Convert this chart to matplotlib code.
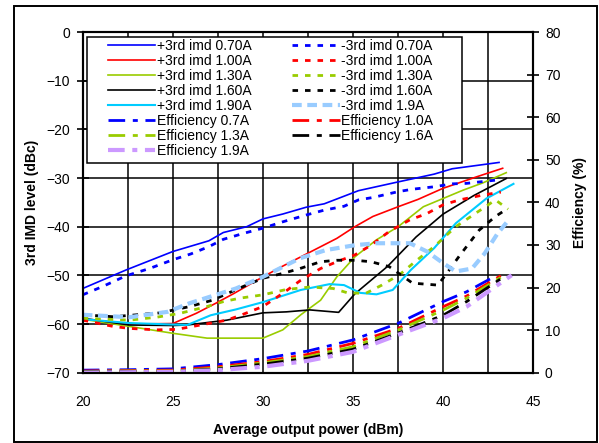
import matplotlib
matplotlib.use("Agg")
import matplotlib.pyplot as plt
from matplotlib.patches import Rectangle
from matplotlib.ticker import MultipleLocator

plt.rcParams['font.family'] = ['Liberation Sans', 'DejaVu Sans']
plt.rcParams['lines.scale_dashes'] = False

# +3rd IMD (solid)
p070_x = [20, 22.4, 25, 26, 27, 27.8, 29.1, 30, 31.1, 32.4, 33.4, 35.3, 37.5, 39.5, 40.5, 43.1]
p070_y = [-52.7, -48.9, -45.1, -44.0, -42.9, -41.2, -40.0, -38.4, -37.4, -36.0, -35.3, -32.6, -30.8, -29.2, -28.1, -26.8]
p100_x = [20, 22.6, 25, 26.3, 27.4, 28.4, 30, 31.1, 32.1, 34.1, 35.1, 36.1, 37.5, 38.6, 40, 41.9, 43.3]
p100_y = [-59.0, -60.0, -59.9, -57.8, -55.7, -53.7, -50.3, -48.1, -46.2, -42.4, -40.0, -37.9, -35.9, -34.4, -32.1, -29.7, -28.0]
p130_x = [20, 22.6, 25, 26.9, 30, 31.1, 32.1, 33.2, 34.1, 35.1, 36.3, 37.5, 38.9, 40, 41.1, 42.2, 43.5]
p130_y = [-59.0, -60.5, -61.9, -62.9, -62.9, -61.2, -58.1, -55.1, -50.3, -46.2, -42.7, -40.0, -35.9, -34.2, -32.5, -31.0, -28.9]
p160_x = [20, 22.6, 25, 25.8, 28, 30, 31.3, 32.6, 34.2, 35.1, 36.9, 38.5, 40, 41.7, 43.5]
p160_y = [-58.8, -60.2, -60.3, -60.2, -59.2, -57.7, -57.5, -57.1, -57.6, -53.8, -48.2, -42.1, -37.4, -33.6, -30.1]
p190_x = [20, 22.6, 25, 25.8, 27.1, 28.5, 30, 32.1, 33.7, 34.5, 35.4, 36.3, 37.2, 38.2, 39.5, 40.7, 42.4, 43.9]
p190_y = [-59.0, -59.8, -60.1, -60.2, -58.2, -57.0, -55.5, -53.0, -51.8, -52.0, -53.6, -53.9, -53.0, -48.9, -44.4, -39.3, -34.2, -31.2]

# -3rd IMD (dashed)
m070_x = [20, 21.1, 22.4, 23.7, 25, 26, 27, 27.8, 28.9, 30, 31.1, 32.4, 33.4, 34.5, 35.3, 36.1, 37.5, 38.3, 39.5, 40.5, 41.3, 43.0]
m070_y = [-54.0, -52.3, -50.1, -48.6, -46.8, -45.6, -44.1, -42.6, -41.4, -40.3, -39.0, -37.6, -36.6, -35.8, -34.5, -34.0, -32.8, -32.3, -31.8, -31.2, -31.1, -30.4]
m100_x = [20, 21.7, 22.6, 24.1, 25.2, 26.1, 28, 28.9, 30, 31.1, 32.1, 33.2, 34.1, 35.1, 36.0, 37.0, 38.15, 39.1, 40.0, 40.9, 42.2, 43.2]
m100_y = [-59.2, -60.5, -60.9, -61.2, -61.1, -60.5, -59.2, -58.0, -56.4, -53.7, -51.0, -48.6, -47.2, -45.8, -43.8, -41.0, -38.6, -37.3, -35.5, -34.5, -33.5, -32.9]
m130_x = [20, 22.6, 24.1, 25.4, 26.9, 27.8, 28.7, 30, 31.3, 32.6, 33.9, 34.7, 35.7, 36.6, 37.6, 38.5, 39.5, 40.7, 41.9, 42.9, 43.6]
m130_y = [-58.8, -59.2, -58.6, -57.8, -56.4, -55.4, -54.7, -54.0, -52.9, -52.4, -52.7, -53.6, -53.7, -52.0, -49.8, -47.0, -44.1, -40.0, -37.0, -34.5, -36.4]
m160_x = [20, 21.7, 23.0, 24.3, 25.95, 27.2, 28.9, 30, 31.1, 32.05, 33.2, 34.1, 35.1, 36.0, 37.0, 38.3, 39.7, 40.2, 40.9, 42.0, 42.9, 43.6]
m160_y = [-58.1, -58.5, -58.1, -57.7, -56.4, -55.1, -52.3, -50.6, -49.6, -48.6, -47.2, -46.9, -46.9, -47.2, -48.2, -51.6, -52.0, -49.6, -46.0, -40.7, -37.9, -36.2]
m190_x = [20, 22.6, 23.55, 24.7, 25.95, 27.4, 28.5, 30, 32.05, 33.5, 35.1, 36.3, 38.15, 39.1, 40.0, 40.7, 41.6, 42.3, 43.0, 43.7]
m190_y = [-58.1, -58.6, -58.1, -57.5, -55.7, -54.0, -52.7, -50.3, -46.5, -44.8, -43.8, -43.4, -43.4, -45.1, -47.5, -49.2, -48.6, -45.5, -41.5, -38.3]

# efficiency (%), right axis
eff_x = [20, 22.5, 25, 27.5, 30, 32.5, 35, 37.5, 40, 41.3]
eff07 = [0.6, 0.7, 0.9, 1.9, 3.3, 5.1, 7.7, 11.6, 16.7, 19.0]
eff10 = [0.4, 0.5, 0.6, 1.4, 2.6, 4.3, 6.9, 10.4, 15.5, 18.0]
eff13 = [0.3, 0.4, 0.4, 1.1, 2.3, 3.8, 6.1, 10.0, 14.7, 17.5]
eff16 = [0.2, 0.3, 0.3, 0.9, 2.0, 3.4, 5.5, 9.3, 13.5, 16.7]
eff19 = [0.0, 0.1, 0.2, 0.6, 1.4, 2.8, 4.9, 8.9, 12.8, 15.5]
eff_end_x = [42.9, 43.2, 43.4, 43.5, 43.8]
eff_end_y = [22.7, 22.8, 22.9, 22.9, 22.9]

blue, red, green, cyan = '#0000FF', '#FF0000', '#99CC00', '#00CCFF'
lblue, purple = '#99CCFF', '#CC99FF'

fig = plt.figure(figsize=(5.99, 4.43), dpi=100)
ax = fig.add_axes([82.7 / 599, 1 - 372.7 / 443, 450.6 / 599, 340.7 / 443])
ax2 = ax.twinx()

sol = dict(lw=1.2, ls='-')
dsh = dict(lw=2.0, ls=(0, (4, 5)))
h = []
h += ax.plot(p070_x, p070_y, color=blue, label='+3rd imd 0.70A', **sol)
h += ax.plot(p100_x, p100_y, color=red, label='+3rd imd 1.00A', **sol)
h += ax.plot(p130_x, p130_y, color=green, label='+3rd imd 1.30A', **sol)
h += ax.plot(p160_x, p160_y, color='black', label='+3rd imd 1.60A', **sol)
h += ax.plot(p190_x, p190_y, color=cyan, label='+3rd imd 1.90A', lw=1.5)
h += ax.plot(m070_x, m070_y, color=blue, label='-3rd imd 0.70A', **dsh)
h += ax.plot(m100_x, m100_y, color=red, label='-3rd imd 1.00A', **dsh)
h += ax.plot(m130_x, m130_y, color=green, label='-3rd imd 1.30A', **dsh)
h += ax.plot(m160_x, m160_y, color='black', label='-3rd imd 1.60A', **dsh)
h += ax.plot(m190_x, m190_y, color=lblue, label='-3rd imd 1.9A', lw=3.0, ls=(0, (7, 4)))

eds = (0, (12, 5.5, 3.6, 5.5))
effs = [(eff07, blue, 'Efficiency 0.7A', 2.0), (eff10, red, 'Efficiency 1.0A', 2.0),
        (eff13, green, 'Efficiency 1.3A', 2.0), (eff16, 'black', 'Efficiency 1.6A', 2.0),
        (eff19, purple, 'Efficiency 1.9A', 3.0)]
for i, (ys, c, lab, w) in enumerate(effs):
    h += ax2.plot(eff_x + [eff_end_x[i]], ys + [eff_end_y[i]], color=c, lw=w, ls=eds, label=lab)

ax.set_xlim(20, 45)
ax.set_ylim(-70, 0)
ax2.set_ylim(0, 80)
ax.xaxis.set_major_locator(MultipleLocator(5))
ax.xaxis.set_minor_locator(MultipleLocator(2.5))
ax.yaxis.set_major_locator(MultipleLocator(10))
ax2.yaxis.set_major_locator(MultipleLocator(10))
ax.grid(True, which='both', axis='x', color='black', lw=1.1)
ax.grid(True, which='major', axis='y', color='black', lw=1.1)
ax.set_axisbelow(True)

ax.tick_params(axis='x', which='both', length=0, pad=16, labelsize=10)
ax.tick_params(axis='y', direction='inout', length=8, width=1.2, pad=5.1, labelsize=10)
ax2.tick_params(axis='y', direction='inout', length=8, width=1.2, pad=4.4, labelsize=10)
for a in (ax, ax2):
    for s in a.spines.values():
        s.set_linewidth(1.5)

ax.set_xlabel('Average output power (dBm)', fontsize=10, fontweight='bold')
ax.xaxis.set_label_coords(0.5, -0.148)
ax.set_ylabel('3rd IMD level (dBc)', fontsize=10, fontweight='bold')
ax.yaxis.set_label_coords(-0.097, 0.5)
ax2.set_ylabel('Efficiency (%)', fontsize=10, fontweight='bold')
ax2.yaxis.set_label_coords(1.088, 0.5)

# legend box
ax2.add_patch(Rectangle((0.0089, 0.6146), 0.832, 0.3716, transform=ax2.transAxes,
                        facecolor='white', edgecolor='black', lw=1.1, zorder=10))
order = [0, 1, 2, 3, 4, 10, 12, 14, 5, 6, 7, 8, 9, 11, 13]
leg = ax2.legend([h[i] for i in order], [h[i].get_label() for i in order],
                 ncol=2, loc='upper left', bbox_to_anchor=(0.050, 0.9877),
                 borderaxespad=0, frameon=False, fontsize=10, handlelength=3.4,
                 handletextpad=0.1, columnspacing=2.95, labelspacing=0.07, borderpad=0.2)
leg.set_zorder(11)

fig.add_artist(Rectangle((14 / 599, 1 - 442 / 443), 583 / 599, 436 / 443,
                         transform=fig.transFigure, fill=False, edgecolor='black', lw=1.4))

fig.savefig('out.png', dpi=100)
